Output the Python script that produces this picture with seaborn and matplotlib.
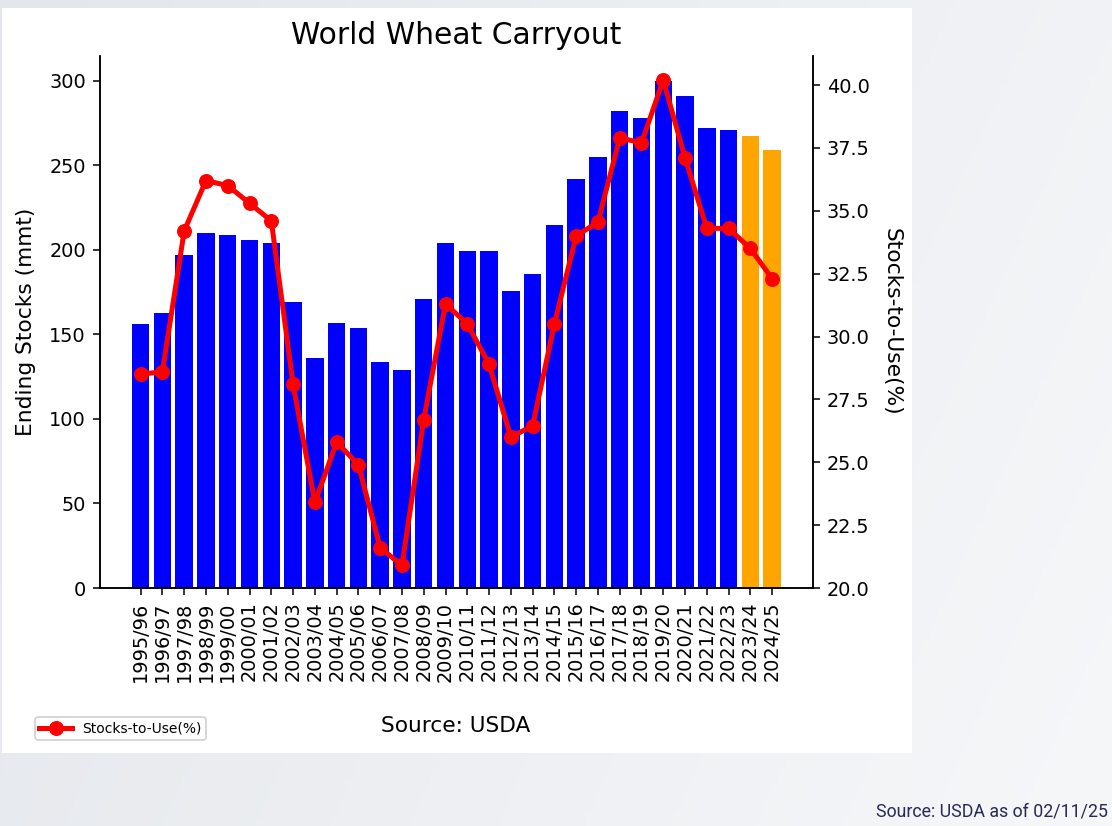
import numpy as np
import pandas as pd
import matplotlib
matplotlib.use("Agg")
import matplotlib.pyplot as plt
from matplotlib.colors import LinearSegmentedColormap
from matplotlib.patches import Rectangle
import seaborn as sns

# ---------------- data ----------------
years = ["1995/96", "1996/97", "1997/98", "1998/99", "1999/00", "2000/01",
         "2001/02", "2002/03", "2003/04", "2004/05", "2005/06", "2006/07",
         "2007/08", "2008/09", "2009/10", "2010/11", "2011/12", "2012/13",
         "2013/14", "2014/15", "2015/16", "2016/17", "2017/18", "2018/19",
         "2019/20", "2020/21", "2021/22", "2022/23", "2023/24", "2024/25"]
ending_stocks = [156, 163, 197, 210, 209, 206, 204, 169, 136, 157, 154, 134,
                 129, 171, 204, 199.5, 199.5, 176, 186, 215, 242, 255, 282, 278,
                 300, 291, 272, 271, 267.5, 259]
stocks_to_use = [28.5, 28.6, 34.2, 36.2, 36.0, 35.3, 34.6, 28.1, 23.4, 25.8,
                 24.9, 21.6, 20.9, 26.7, 31.3, 30.5, 28.9, 26.0, 26.45, 30.5,
                 34.0, 34.55, 37.9, 37.7, 40.2, 37.1, 34.3, 34.3, 33.5, 32.3]
status = ["actual"] * 28 + ["projected"] * 2
bar_colors = {"actual": "blue", "projected": "orange"}

title = "World Wheat Carryout"
left_label = "Ending Stocks (mmt)"
right_label = "Stocks-to-Use(%)"
source_text = "Source: USDA"
footer_text = "Source: USDA as of 02/11/25"

df = pd.DataFrame({"year": years, "stocks": ending_stocks,
                   "stu": stocks_to_use, "status": status})
df["pos"] = np.arange(len(df))

plt.rcParams["font.family"] = ["DejaVu Sans"]

# ---------------- figure ----------------
W, H, DPI = 1112, 826, 139
fig = plt.figure(figsize=(W / DPI, H / DPI), dpi=DPI)

# background gradient + white panel
bg = fig.add_axes([0, 0, 1, 1], zorder=-10)
bg.set_axis_off()
gx = np.linspace(0, 1, 256)[None, :]
gy = np.linspace(0, 1, 128)[:, None]
grad = 0.75 * gx + 0.25 * gy
cmap = LinearSegmentedColormap.from_list("bg", ["#e3e6eb", "#f6f7f9"])
bg.imshow(grad, cmap=cmap, extent=[0, 1, 0, 1], aspect="auto", origin="upper")
bg.set_xlim(0, 1)
bg.set_ylim(0, 1)
bg.add_patch(Rectangle((2 / W, 1 - 753 / H), 910 / W, 745 / H,
                       facecolor="white", edgecolor="none",
                       transform=bg.transAxes))

left, right = 99.5, 813.3
top, bottom = 55.6, 588
ax = fig.add_axes([left / W, 1 - bottom / H, (right - left) / W, (bottom - top) / H])

sns.barplot(data=df, x="year", y="stocks", hue="status", palette=bar_colors,
            dodge=False, saturation=1, width=0.8, linewidth=0, legend=False, ax=ax)
ax.set_xlim(-1.89, 30.89)
ax.set_ylim(0, 315)
ax.set_yticks(np.arange(0, 301, 50))
ax.set_xlabel("")
ax.set_ylabel(left_label, fontsize=11.3, labelpad=7)
ax.tick_params(axis="x", labelrotation=90, labelsize=10)
ax.tick_params(axis="y", labelsize=10)
ax.spines["top"].set_visible(False)
ax.set_title(title, fontsize=15.4, pad=6)

ax2 = ax.twinx()
sns.lineplot(data=df, x="pos", y="stu", ax=ax2, color="red", marker="o",
             linewidth=2.6, markersize=7, markeredgecolor="red",
             label=right_label)
if ax2.get_legend() is not None:
    ax2.get_legend().remove()
ax2.set_ylim(20, 41.17)
ax2.set_yticks(np.arange(20, 40.01, 2.5))
ax2.set_xlabel("")
ax2.set_ylabel(right_label, fontsize=11.3, rotation=270, va="bottom", labelpad=6)
ax2.tick_params(axis="y", labelsize=10)
ax2.spines["top"].set_visible(False)
ax.set_xlim(-1.89, 30.89)

handles, labels = ax2.get_legend_handles_labels()
fig.legend(handles, labels, loc="lower left",
           bbox_to_anchor=(35 / W, 1 - 740 / H), borderaxespad=0,
           fontsize=7.2, frameon=True, borderpad=0.32,
           handlelength=2.37, handletextpad=0.72)

fig.text(456 / W, 1 - 732 / H, source_text, ha="center", va="baseline",
         fontsize=11.2)
fig.text(1108 / W, 1 - 812 / H, footer_text, ha="right", va="center",
         fontsize=9.2, color="#262a55",
         family=["Liberation Sans Narrow", "Roboto", "DejaVu Sans"])

fig.savefig("out.png", dpi=DPI)
